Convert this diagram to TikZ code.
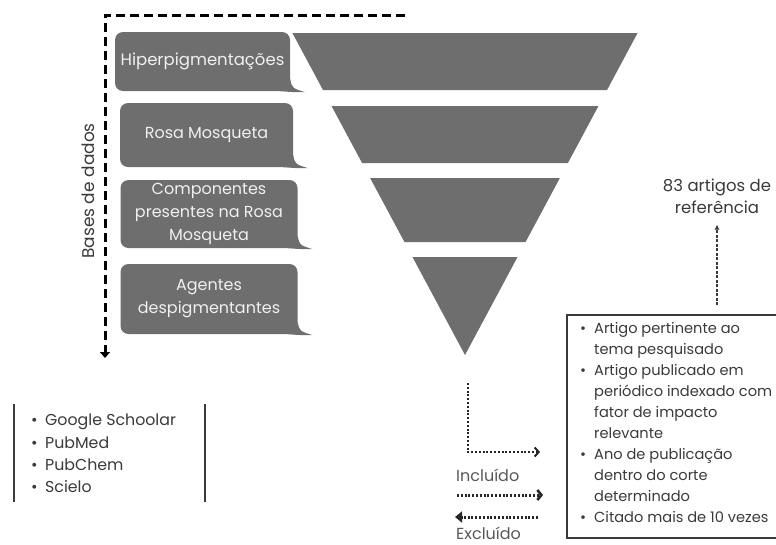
\documentclass[tikz,border=0pt]{standalone}
\usepackage{fontspec}
\setmainfont{Poppins}
\usetikzlibrary{arrows.meta,positioning}
\definecolor{funnelgray}{HTML}{6E6E6E}
\definecolor{inkgray}{HTML}{3A3A3A}
% bullet line and continuation line
\newcommand\itm[1]{\makebox[14pt][l]{\textbullet}#1}
\newcommand\cnt[1]{\hspace*{14pt}#1}
\begin{document}
\begin{tikzpicture}[x=1pt, y=-1pt,
  band/.style={fill=funnelgray},
  bubble/.style={fill=funnelgray, rounded corners=8pt, text=white!94!black, align=center,
    font=\fontsize{16}{23}\selectfont, minimum width=177pt, inner sep=0pt},
  dbline/.style={line width=3pt, dash pattern=on 9pt off 5pt},
  sel/.style={line width=2.4pt, dash pattern=on 2pt off 1.8pt, black!85},
  refarrow/.style={line width=1.4pt, dash pattern=on 3pt off 1.5pt, inkgray, -{Latex[length=5pt,width=5pt]}},
  plain/.style={text=inkgray, font=\fontsize{16}{22}\selectfont, align=left, inner sep=0pt},
  critbox/.style={draw=inkgray, line width=1.6pt, minimum width=210pt, minimum height=223pt, inner sep=0pt}]
  \useasboundingbox (0,0) rectangle (776,544);

  % funnel bands, apex at (465,355)
  \foreach \yt/\yb in {33/90, 106/163, 178/242, 257/355} {
    \pgfmathsetmacro\wt{(355-\yt)*0.536}
    \pgfmathsetmacro\wb{(355-\yb)*0.536}
    \fill[band] (465-\wt,\yt) -- (465+\wt,\yt) -- (465+\wb,\yb) -- (465-\wb,\yb) -- cycle;
  }

  % search terms
  \node[bubble, minimum width=175pt, minimum height=59pt, font=\fontsize{16.5}{23}\selectfont] (hiper) at (202.5,61.5) {Hiperpigmentações};
  \node[bubble, minimum width=173pt, minimum height=64pt] (rosa) at (206.5,135) {Rosa Mosqueta};
  \node[bubble, minimum height=68pt] (comp) at (209,214) {Componentes\\presentes na Rosa\\Mosqueta};
  \node[bubble, minimum height=70pt] (agent) at (209,299) {Agentes\\despigmentantes};
  % bubble tails
  \foreach \b in {hiper, rosa, comp, agent} {
    \fill[funnelgray] ([yshift=12pt]\b.south east)
      .. controls ([xshift=2pt,yshift=3pt]\b.south east) .. ([xshift=15pt,yshift=-1pt]\b.south east)
      .. controls ([xshift=4pt,yshift=-1pt]\b.south east) .. ([xshift=-10pt]\b.south east) -- cycle;
  }

  % databases axis
  \coordinate (dbright) at (405,15);
  \coordinate (dbcorner) at (105,15);
  \coordinate (dbend) at (105,358);
  \draw[dbline, -{Triangle[length=6pt,width=10pt]}] (dbright) -- (dbcorner) -- (dbend);
  \node[plain, rotate=90, font=\fontsize{17}{19}\selectfont] (bases) at (88,191) {Bases de dados};

  % database list
  \node[plain, anchor=west, font=\fontsize{15.8}{22.3}\selectfont] (dblist) at (31,453.5)
    {\itm{Google Schoolar}\\\itm{PubMed}\\\itm{PubChem}\\\itm{Scielo}};
  \draw[line width=2pt, inkgray] (14,404) -- (14,502);
  \draw[line width=2pt, inkgray] (205,404) -- (205,502);

  % selection arrows
  \coordinate (selstart) at (468,383);
  \coordinate (selcorner) at (468,452);
  \coordinate (selend) at (540,452);
  \draw[sel, -{Straight Barb[length=4pt,width=9pt,line width=2pt]}] (selstart) -- (selcorner) -- (selend);
  \node[plain, anchor=west, text=funnelgray!80!black] (incl) at (456,475) {Incluído};
  \coordinate (inclL) at (457,495);
  \coordinate (inclR) at (543,495);
  \draw[sel, line width=3pt, -{Straight Barb[length=4pt,width=10pt,line width=2.6pt]}] (inclL) -- (inclR);
  \coordinate (exclR) at (538,517);
  \coordinate (exclL) at (455,517);
  \draw[sel, line width=3pt, -{Triangle[length=7pt,width=11pt]}] (exclR) -- (exclL);
  \node[plain, anchor=west, text=funnelgray!80!black] (excl) at (456,533) {Excluído};

  % criteria
  \node[critbox, anchor=north west] (crit) at (566,314) {};
  \node[plain, anchor=north west, font=\fontsize{14.6}{21}\selectfont] (critlist) at (580,322)
    {\itm{Artigo pertinente ao}\\\cnt{tema pesquisado}\\
     \itm{Artigo publicado em}\\\cnt{periódico indexado com}\\\cnt{fator de impacto}\\\cnt{relevante}\\
     \itm{Ano de publicação}\\\cnt{dentro do corte}\\\cnt{determinado}\\
     \itm{Citado mais de 10 vezes}};

  % result
  \node[plain, align=center, font=\fontsize{16.5}{22}\selectfont] (refs) at (717,196) {83 artigos de\\referência};
  \draw[refarrow] ([yshift=9pt]crit.north -| refs.south) -- ([yshift=-11pt]refs.south);
\end{tikzpicture}
\end{document}
